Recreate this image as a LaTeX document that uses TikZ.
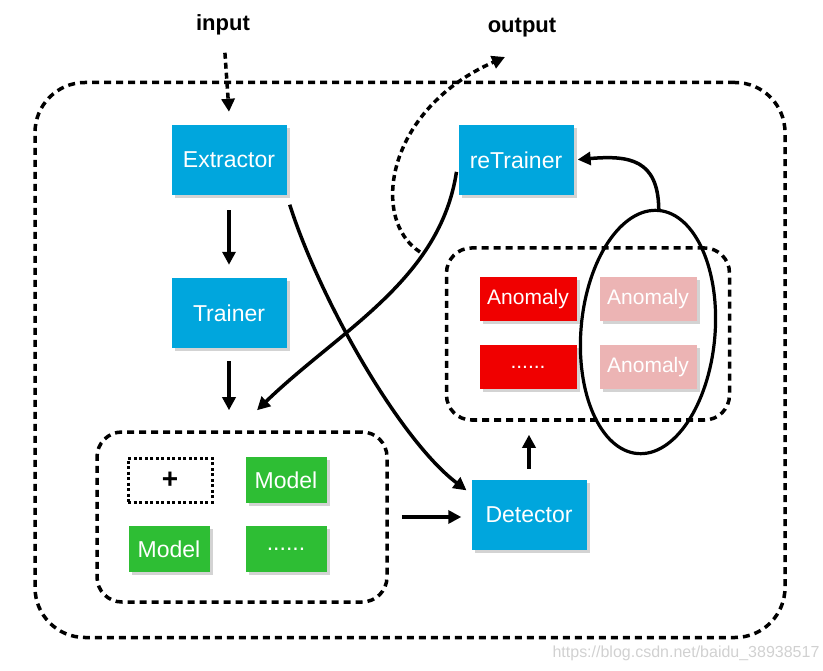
\documentclass[tikz,border=0pt]{standalone}
\usepackage{fontspec}
\setmainfont{Liberation Sans}
\usetikzlibrary{shapes.geometric,shadows,arrows.meta}

\definecolor{blau}{RGB}{0,166,221}
\definecolor{gruen}{RGB}{46,190,52}
\definecolor{rot}{RGB}{240,0,0}
\definecolor{rosa}{RGB}{236,180,180}

\begin{document}
\begin{tikzpicture}[x=1pt,y=-1pt,>={Triangle[length=13pt,width=13pt]},
    box/.style={rectangle, inner sep=0pt, text=white, font=\fontsize{23}{26}\selectfont,
        drop shadow={opacity=0.35, shadow xshift=3pt, shadow yshift=-3pt}},
    blauk/.style={box, fill=blau, minimum width=115, minimum height=70},
    gruenk/.style={box, fill=gruen, minimum width=81, minimum height=46},
    rotk/.style={box, fill=rot, minimum width=97, minimum height=44, font=\fontsize{21}{24}\selectfont},
    rosak/.style={rotk, fill=rosa},
    gruppe/.style={draw, line width=3.5pt, dash pattern=on 7pt off 5pt, rounded corners=25pt},
    pfeil/.style={->, line width=3.5pt},
    strich/.style={pfeil, dash pattern=on 6pt off 4pt},
]
\useasboundingbox (0,0) rectangle (823,671);

% system frame and groups
\node[gruppe, rounded corners=50pt, minimum width=750, minimum height=555] (S) at (410,360) {};
\node[gruppe, minimum width=290, minimum height=170] (M) at (242,517) {};
\node[gruppe, minimum width=283, minimum height=172] (G) at (588,334) {};

\node[font=\bfseries\fontsize{22}{24}\selectfont] (in) at (223,25) {input};
\node[font=\bfseries\fontsize{22}{24}\selectfont] (out) at (522,28) {output};
\coordinate (o) at (505,57);

\node[blauk] (E) at (229,160) {Extractor};
\node[blauk] (R) at (516,160) {reTrainer};
\node[blauk] (T) at (229,313) {Trainer};
\node[blauk] (D) at (529,515) {Detector};

\node[draw, line width=3pt, dash pattern=on 3pt off 2.5pt, minimum width=84, minimum height=44,
    font=\bfseries\fontsize{28}{28}\selectfont] (P) at (170,480) {+};
\node[gruenk] (M1) at (286,480) {Model};
\node[gruenk] (M2) at (169,549) {Model};
\node[gruenk] (M3) at (286,549) {......};

\node[rotk] (A1) at (528,299) {Anomaly};
\node[rotk] (A2) at (528,367) {......};
\node[rosak] (A3) at (648,299) {Anomaly};
\node[rosak] (A4) at (648,367) {Anomaly};

\node[draw, ellipse, line width=3.2pt, minimum width=134, minimum height=244, rotate=-5] (O) at (648,332) {};

\node[text=black!18, font=\fontsize{16}{18}\selectfont] (W) at (686,653) {https://blog.csdn.net/baidu\_38938517};

% connectors
\draw[strich, shorten <=14pt] (in) -- ([yshift=13pt]E.north);
\draw[pfeil, shorten <=15pt, shorten >=13pt] (E.south) -- (T.north);
\draw[pfeil, shorten <=13pt] (T.south) -- ([yshift=20pt]T.south |- M.north);
\draw[pfeil, shorten <=13pt, shorten >=10pt] (M.east) -- (M.east -| D.west);
\draw[pfeil, shorten <=11pt, shorten >=13pt] (D.north) -- (D.north |- G.south);
\draw[pfeil, shorten <=10pt, shorten >=6pt] (E.south east) .. controls (320,300) and (400,440) .. (D.160);
\draw[pfeil, shorten <=12pt] (R.west) .. controls (440,280) and (340,330) .. ([xshift=15pt,yshift=20pt]M.north);
\coordinate (b) at (420,252);
\draw[strich] (b) .. controls (370,220) and (385,110) .. (o);
\draw[pfeil, shorten >=4pt] (O.north) .. controls (658,160) and (630,155) .. (R.east);

\end{tikzpicture}
\end{document}
